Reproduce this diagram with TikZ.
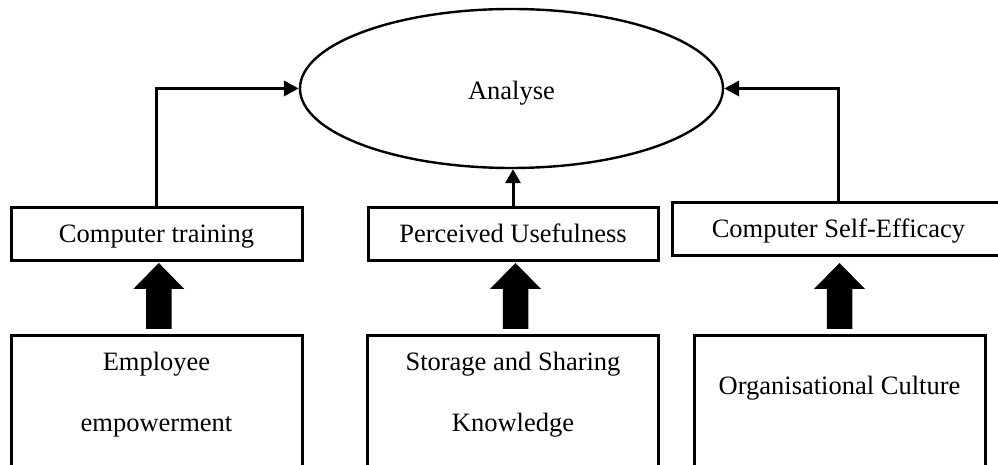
\documentclass[tikz,border=0pt]{standalone}
\usepackage{fontspec}
\setmainfont{Liberation Serif}
\usetikzlibrary{arrows.meta,calc,shapes.geometric}
\begin{document}
\begin{tikzpicture}[x=1pt,y=1pt,
  txt/.style={font=\fontsize{26.5}{32}\selectfont, inner sep=0pt},
  box/.style={draw, line width=3pt, inner sep=0pt, minimum height=53pt,
              txt, text height=17pt, text depth=0pt},
  basebox/.style={draw, line width=3pt, inner sep=0pt, minimum width=291pt,
              minimum height=170pt, anchor=north},
  oval/.style={draw, ellipse, line width=2.4pt, inner sep=0pt, minimum width=423pt,
              minimum height=159pt, txt, text height=22pt, text depth=0pt},
  conn/.style={line width=3.5pt, -{Triangle[length=15pt,width=15pt]}},
  thinconn/.style={line width=3pt, -{Triangle[length=14pt,width=15pt]}},
  fatup/.pic={\fill (-12.75,0) -- (12.75,0) -- (12.75,40) -- (25.5,40) -- (0,66)
                    -- (-25.5,40) -- (-12.75,40) -- cycle;}
]
\clip (0,0) rectangle (998,465);

% central outcome
\node[oval] (an) at (511.5,376.5) {Analyse};

% middle row
\node[box, minimum width=291pt] (ct)  at (156.5,230.5) {Computer training};
\node[box, minimum width=290pt] (pu)  at (513,230.5)   {Perceived Usefulness};
\node[box, minimum width=333pt] (cse) at (838.5,235.5) {Computer Self-Efficacy};

% bottom row (open at the lower edge)
\node[basebox] (emp) at (156.5,131) {};
\node[basebox] (ssk) at (513,131)   {};
\node[basebox] (oc)  at (839.5,131) {};

\node[txt, anchor=base] (emp-a) at ($(emp.north)+(0,-37)$) {Employee};
\node[txt, anchor=base] (emp-b) at ($(emp.north)+(0,-98)$) {empowerment};
\node[txt, anchor=base] (ssk-a) at ($(ssk.north)+(0,-37)$) {Storage and Sharing};
\node[txt, anchor=base] (ssk-b) at ($(ssk.north)+(0,-98)$) {Knowledge};
\node[txt, anchor=base] (oc-a)  at ($(oc.north)+(0,-61)$)  {Organisational Culture};

% links into the outcome
\draw[conn] (ct.north) |- (an.west);
\draw[conn] (cse.north) |- (an.east);
\draw[thinconn] (pu.north) -- (pu.north |- an.south);

% block arrows between the rows
\pic at ($(emp.north)+(2.3,5)$) {fatup};
\pic at ($(ssk.north)+(2.5,5)$) {fatup};
\pic at ($(oc.north)+(0,5)$)    {fatup};
\end{tikzpicture}
\end{document}
